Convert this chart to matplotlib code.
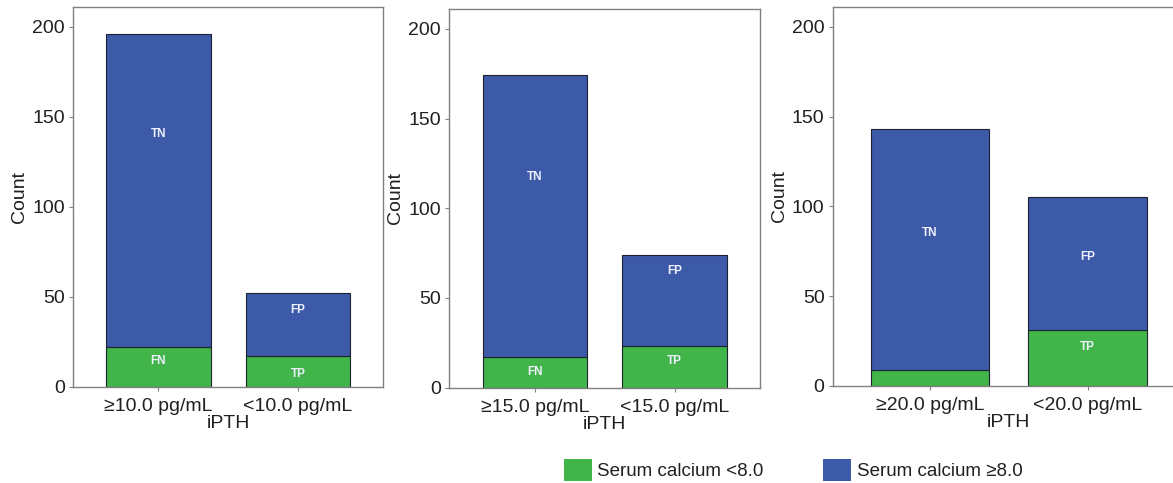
import matplotlib
matplotlib.use("Agg")
import matplotlib.pyplot as plt
from matplotlib.patches import Patch

plt.rcParams['font.family'] = ['Liberation Sans', 'DejaVu Sans']

# one panel per iPTH cut-off
cutoffs = ["10.0", "15.0", "20.0"]
low_ca = [[22, 17], [17, 23], [9, 31]]        # serum calcium <8.0  (FN, TP)
high_ca = [[174, 35], [157, 51], [134, 74]]   # serum calcium >=8.0 (TN, FP)
low_tags = [["FN", "TP"], ["FN", "TP"], ["", "TP"]]
high_tags = [["TN", "FP"], ["TN", "FP"], ["TN", "FP"]]
# where the TN/FP/FN/TP tags sit, as fraction of their segment
low_frac = [[0.65, 0.42], [0.51, 0.64], [0.5, 0.69]]
high_frac = [[0.68, 0.74], [0.64, 0.82], [0.57, 0.55]]

green = "#41b549"
blue = "#3d5aa8"
edge = "#1c2230"
spine_col = "#808080"
txt_col = "#231f20"

fig = plt.figure(figsize=(11.73, 4.83), dpi=100)
boxes = [
    [0.0622, 0.1988, 0.2643, 0.7867],
    [0.3830, 0.1973, 0.2649, 0.7840],
    [0.7101, 0.2015, 0.3000, 0.7835],
]

for i, cut in enumerate(cutoffs):
    ax = fig.add_axes(boxes[i])
    x = [0, 1]
    ax.bar(x, low_ca[i], width=0.75, color=green, edgecolor=edge, linewidth=0.8)
    ax.bar(x, high_ca[i], width=0.75, bottom=low_ca[i], color=blue,
           edgecolor=edge, linewidth=0.8)
    for j in range(2):
        lo = low_ca[i][j]
        hi = high_ca[i][j]
        if low_tags[i][j]:
            ax.text(j, lo * low_frac[i][j], low_tags[i][j], ha="center",
                    va="center", color="#eef0ff", fontsize=8.5, fontweight="bold")
        ax.text(j, lo + hi * high_frac[i][j], high_tags[i][j], ha="center",
                va="center", color="#eef0ff", fontsize=8.5, fontweight="bold")

    ax.set_xlim(-0.613, 1.61 if i < 2 else 1.615)
    ax.set_ylim(0, 211)
    ax.set_yticks([0, 50, 100, 150, 200])
    ax.set_xticks(x)
    ax.set_xticklabels(["\u2265" + cut + " pg/mL", "<" + cut + " pg/mL"])
    ax.tick_params(axis="both", labelsize=14, colors=txt_col, length=3,
                   width=0.8, color=spine_col)
    ax.tick_params(axis="x", pad=5)
    ax.tick_params(axis="y", pad=3)
    for s in ax.spines.values():
        s.set_color(spine_col)
        s.set_linewidth(1.0)
    ax.set_ylabel("Count", fontsize=14, color=txt_col, labelpad=3)
    ax.set_xlabel("iPTH", fontsize=14, color=txt_col, labelpad=0)

handles = [Patch(facecolor=green, edgecolor="none", label="Serum calcium <8.0"),
           Patch(facecolor=blue, edgecolor="none", label="Serum calcium \u22658.0")]
fig.legend(handles=handles, loc="center", bbox_to_anchor=(0.676, 0.027),
           ncol=2, frameon=False, fontsize=13.5, handlelength=1.5,
           handleheight=1.5, handletextpad=0.3, columnspacing=3.15,
           labelcolor=txt_col)

fig.savefig("out.png", dpi=100)
